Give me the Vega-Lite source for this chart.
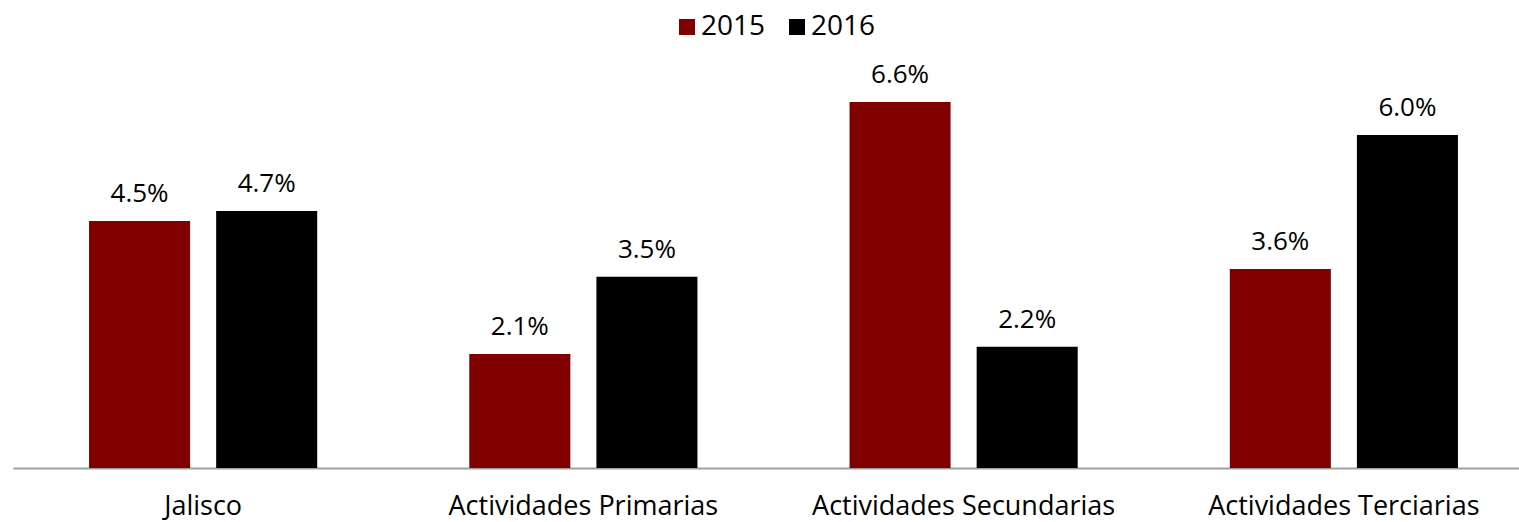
{
  "$schema": "https://vega.github.io/schema/vega-lite/v6.json",
  "autosize": {"type": "none"},
  "width": 1521,
  "height": 441,
  "padding": {"left": 13, "top": 27, "right": 0, "bottom": 54},
  "background": "white",
  "data": {"values": [
    {"categoria": "Jalisco", "anio": "2015", "valor": 4.48, "etiqueta": "4.5%"},
    {"categoria": "Jalisco", "anio": "2016", "valor": 4.66, "etiqueta": "4.7%"},
    {"categoria": "Actividades Primarias", "anio": "2015", "valor": 2.07, "etiqueta": "2.1%"},
    {"categoria": "Actividades Primarias", "anio": "2016", "valor": 3.47, "etiqueta": "3.5%"},
    {"categoria": "Actividades Secundarias", "anio": "2015", "valor": 6.64, "etiqueta": "6.6%"},
    {"categoria": "Actividades Secundarias", "anio": "2016", "valor": 2.2, "etiqueta": "2.2%"},
    {"categoria": "Actividades Terciarias", "anio": "2015", "valor": 3.61, "etiqueta": "3.6%"},
    {"categoria": "Actividades Terciarias", "anio": "2016", "valor": 6.04, "etiqueta": "6.0%"}
  ]},
  "encoding": {
    "x": {"field": "categoria", "type": "nominal", "sort": null,
      "scale": {"paddingInner": 0.4, "paddingOuter": 0.2},
      "axis": {"title": null, "labelAngle": 0, "ticks": false, "domainColor": "#A0A0A0", "domainWidth": 2,
        "labelFont": "Open Sans", "labelFontSize": 27, "labelColor": "#000000", "labelPadding": 25, "labelLimit": 500}},
    "xOffset": {"field": "anio", "type": "nominal", "scale": {"paddingInner": 0.205, "paddingOuter": 0}},
    "y": {"field": "valor", "type": "quantitative", "scale": {"domain": [0, 8]}, "axis": null}
  },
  "layer": [
    {"mark": {"type": "bar"},
     "encoding": {"color": {"field": "anio", "type": "nominal",
       "scale": {"domain": ["2015", "2016"], "range": ["#800000", "#000000"]},
       "legend": {"title": null, "orient": "none", "direction": "horizontal", "legendX": 660, "legendY": -14,
         "symbolType": "square", "symbolSize": 256, "labelFont": "Open Sans", "labelFontSize": 28, "labelColor": "#000000",
         "columnPadding": 17, "symbolStrokeWidth": 0, "labelOffset": 0}}}},
    {"mark": {"type": "text", "baseline": "alphabetic", "dy": -19, "font": "Open Sans", "fontSize": 26, "color": "#000000"},
     "encoding": {"text": {"field": "etiqueta", "type": "nominal"}}}
  ],
  "config": {"view": {"stroke": null}}
}
